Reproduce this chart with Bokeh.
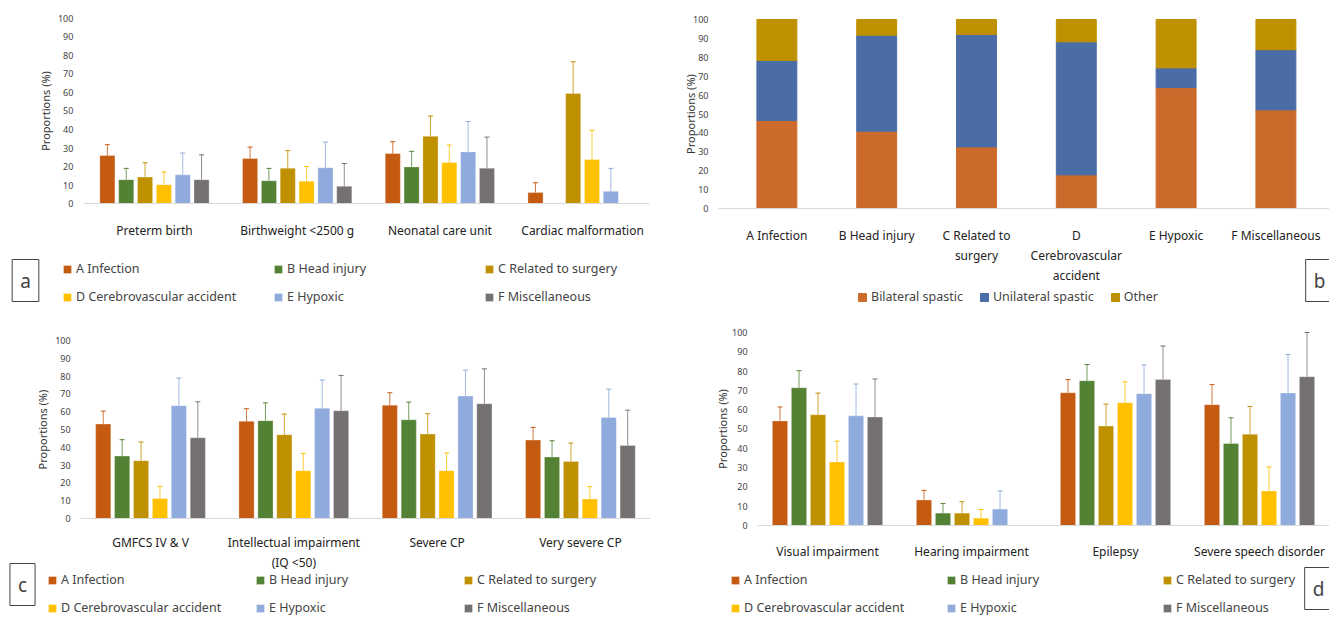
from bokeh.plotting import figure
from bokeh.models import (ColumnDataSource, Whisker, Legend, LegendItem, FixedTicker, Label,
                          LinearAxis, Range1d)
from bokeh.layouts import gridplot
from bokeh.embed import file_html
from bokeh.resources import INLINE

series = ["A Infection", "B Head injury", "C Related to surgery",
          "D Cerebrovascular accident", "E Hypoxic", "F Miscellaneous"]
colors = ["#C55A11", "#548235", "#BF9000", "#FFC000", "#8FAADC", "#767171"]

cats_a = ["Preterm birth", "Birthweight <2500 g", "Neonatal care unit", "Cardiac malformation"]
val_a = [[25.9, 24.3, 27.0, 5.9], [12.9, 12.3, 19.8, None], [14.3, 19.1, 36.3, 59.5],
         [10.2, 12.1, 22.1, 23.8], [15.5, 19.3, 27.9, 6.6], [12.9, 9.3, 19.1, None]]
lo_a = [[19, 17.7, 20.2, 0], [6, 5.7, 11.2, None], [6, 9.8, 25, 41.8],
        [3, 4.5, 12.5, 7.9], [3, 5, 11.2, 0], [0, 0, 2, None]]
hi_a = [[31.8, 30.5, 33.4, 11.2], [19, 19, 28.2, None], [22, 28.6, 47.3, 76.6],
        [17, 20, 31.6, 39.5], [27.3, 33.2, 44.3, 19], [26.3, 21.6, 35.9, None]]

cats_c = ["GMFCS IV & V", "Intellectual impairment\n(IQ <50)", "Severe CP", "Very severe CP"]
val_c = [[53.1, 54.6, 63.7, 44.1], [35.1, 55.0, 55.5, 34.6], [32.5, 47.1, 47.5, 32.0],
         [11.2, 26.9, 26.9, 11.0], [63.4, 62.0, 68.8, 56.8], [45.4, 60.6, 64.5, 41.1]]
lo_c = [[46, 47.5, 56.6, 37], [26.2, 45, 45.6, 25.6], [22, 35.9, 36.3, 21.7],
        [4.1, 17, 17, 4.1], [48, 46.4, 54, 40.7], [25, 40.4, 45.2, 21.3]]
hi_c = [[60.4, 61.7, 70.7, 51.2], [44.3, 65, 65.4, 43.7], [43, 58.7, 58.9, 42.4],
        [18.1, 36.6, 36.8, 17.9], [78.9, 77.8, 83.4, 72.7], [65.6, 80.4, 84.1, 60.9]]

cats_d = ["Visual impairment", "Hearing impairment", "Epilepsy", "Severe speech disorder"]
val_d = [[54.2, 13.2, 68.8, 62.6], [71.4, 6.4, 75.0, 42.5], [57.4, 6.4, 51.5, 47.3],
         [32.9, 3.8, 63.6, 17.9], [56.8, 8.5, 68.3, 68.6], [56.2, None, 75.7, 77.1]]
lo_d = [[46.6, 8, 62, 52.2], [62.6, 1.6, 66.7, 28.9], [46.1, 1, 40.2, 32.9],
        [22, 0, 52.7, 5.4], [40.2, 0, 53.2, 48.7], [36, None, 58.4, 53.7]]
hi_d = [[61.4, 18.2, 75.6, 73], [80.2, 11.4, 83.4, 55.8], [68.6, 12.3, 62.9, 61.7],
        [43.7, 8.3, 74.4, 30.3], [73.3, 17.9, 83.2, 88.6], [75.9, None, 93, 100]]

cats_b = ["A Infection", "B Head injury", "C Related to\nsurgery",
          "D\nCerebrovascular\naccident", "E Hypoxic", "F Miscellaneous"]
stack_names = ["Bilateral spastic", "Unilateral spastic", "Other"]
stack_colors = ["#CC6A2C", "#4A6DA7", "#BF9000"]
bilateral = [46.6, 40.9, 32.6, 17.8, 64.0, 52.2]
unilateral = [31.7, 50.8, 59.5, 70.4, 10.4, 31.8]
other = [21.7, 8.3, 7.9, 11.8, 25.6, 16.0]

FONT = "Noto Sans"


def base(w, h, xr, yr, cats, yaxis_x, ylabel_x, xbounds, standoff=12):
    p = figure(width=w, height=h, x_range=Range1d(*xr), y_range=Range1d(*yr),
               x_axis_location=None, y_axis_location=None, min_border=0,
               output_backend="svg", toolbar_location=None)
    p.xgrid.visible = False
    p.ygrid.visible = False
    p.outline_line_color = None
    ya = LinearAxis(fixed_location=yaxis_x, ticker=FixedTicker(ticks=list(range(0, 101, 10))),
                    axis_line_color=None, major_tick_line_color=None,
                    minor_tick_line_color=None, major_label_text_font_size="9px",
                    major_label_text_font=FONT, major_label_standoff=4)
    p.add_layout(ya, "left")
    xa = LinearAxis(fixed_location=0, ticker=FixedTicker(ticks=list(range(len(cats)))),
                    major_label_overrides={i: c for i, c in enumerate(cats)},
                    axis_line_color="#D9D9D9", major_tick_line_color=None,
                    minor_tick_line_color=None, major_label_text_font=FONT,
                    major_label_text_font_size="12px", major_label_standoff=standoff,
                    major_label_text_color="#222222", bounds=xbounds)
    p.add_layout(xa, "below")
    p.add_layout(Label(x=ylabel_x, y=50, text="Proportions (%)", angle=1.5708,
                       text_font=FONT, text_font_size="11px", text_align="center",
                       text_baseline="middle", text_color="#333333"))
    return p


def boxlabel(p, t, x, y):
    p.add_layout(Label(x=x, y=y, x_units="screen", y_units="screen", text=t,
                       text_font=FONT, text_font_size="19px", text_align="center",
                       text_baseline="middle", border_line_color="#444444",
                       background_fill_color="white", padding=8))


def grouped(cats, vals, los, his, w, h, xr, yr, yax, ylab, xb, leg_xy, colw, box_xy,
            letter, standoff=12):
    p = base(w, h, xr, yr, cats, yax, ylab, xb, standoff)
    items = []
    for j in range(6):
        xs, tops, ls, hs = [], [], [], []
        for i in range(len(cats)):
            if vals[j][i] is None:
                continue
            xs.append(i + (j - 2.5) * 0.132)
            tops.append(vals[j][i]); ls.append(los[j][i]); hs.append(his[j][i])
        src = ColumnDataSource(dict(x=xs, top=tops, lo=ls, hi=hs))
        r = p.vbar(x="x", top="top", width=0.106, source=src, fill_color=colors[j],
                   line_color="white", line_width=0.5, line_alpha=0.6)
        w_ = Whisker(base="x", lower="lo", upper="hi", source=src, line_color=colors[j],
                     line_width=1, line_alpha=0.8)
        w_.upper_head.size = 5
        w_.lower_head.size = 5
        w_.upper_head.line_color = colors[j]
        w_.lower_head.line_color = colors[j]
        p.add_layout(w_)
        items.append(LegendItem(label=series[j], renderers=[r]))
    leg = Legend(items=items, ncols=3, orientation="horizontal", label_width=colw,
                 glyph_width=10, glyph_height=10, label_text_font=FONT,
                 label_text_font_size="12.5px", border_line_color=None, spacing=11,
                 padding=0, margin=0, location=leg_xy, label_height=16,
                 background_fill_alpha=0, label_standoff=4)
    p.add_layout(leg, "center")
    boxlabel(p, letter, *box_xy)
    return p


pa = grouped(cats_a, val_a, lo_a, hi_a, 663, 305, (-1.079, 3.567), (-55.1, 109.7),
             -0.498, -0.764, (-0.5, 3.47), (62, 0), 186, (25, 25), "a")
pc = grouped(cats_c, val_c, lo_c, hi_c, 663, 312, (-1.047, 3.58), (-55.6, 119.7),
             -0.488, -0.754, (-0.49, 3.49), (47, 1), 183, (22, 33), "c", standoff=9)
pd = grouped(cats_d, val_d, lo_d, hi_d, 666, 312, (-1.139, 3.486), (-47.7, 114.0),
             -0.486, -0.729, (-0.486, 3.486), (67, 1), 191, (655, 29), "d")

pb = base(666, 305, (-1.136, 5.537), (-51.3, 110.05), cats_b, -0.585, -0.866, (-0.585, 5.537))
src_b = ColumnDataSource(dict(x=list(range(6)), bilateral=bilateral,
                              unilateral=unilateral, other=other))
rs = pb.vbar_stack(["bilateral", "unilateral", "other"], x="x", width=0.4, source=src_b,
                   fill_color=stack_colors, line_color=stack_colors)
legb = Legend(items=[LegendItem(label=n, renderers=[r]) for n, r in zip(stack_names, rs)],
              orientation="horizontal", glyph_width=10, glyph_height=10,
              label_text_font=FONT, label_text_font_size="12.5px", border_line_color=None,
              spacing=16, padding=0, margin=0, location=(194, 0), label_height=16,
              background_fill_alpha=0, label_standoff=4)
pb.add_layout(legb, "center")
boxlabel(pb, "b", 656, 25)

g = gridplot([[pa, pb], [pc, pd]], toolbar_location=None)
open("out.html", "w").write(file_html(g, INLINE))
